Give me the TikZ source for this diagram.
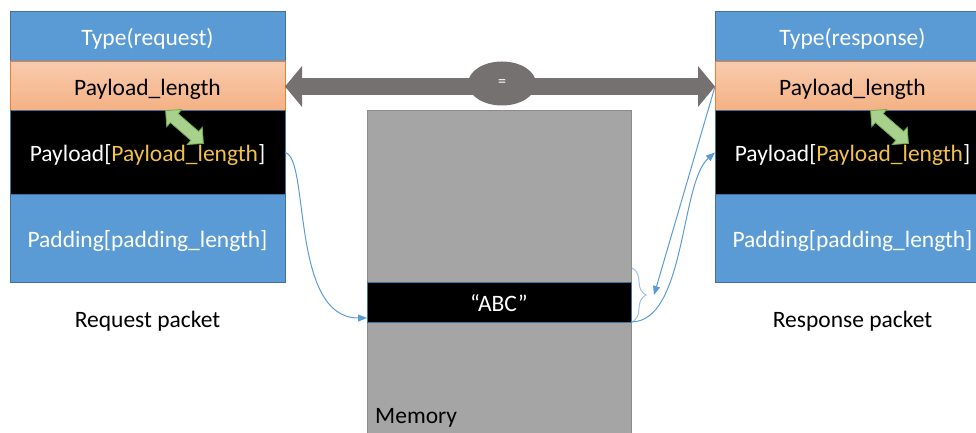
\documentclass[tikz,border=0pt]{standalone}
\usepackage{fontspec}
\setmainfont{Carlito}
\usetikzlibrary{positioning,calc,shapes.arrows,shapes.geometric,arrows.meta,decorations.pathreplacing}

\definecolor{boxblue}{HTML}{5B9BD5}
\definecolor{edgeblue}{HTML}{41719C}
\definecolor{lentop}{HTML}{F8CBAD}
\definecolor{lenbot}{HTML}{F4B183}
\definecolor{lenedge}{HTML}{ED7D31}
\definecolor{lengold}{HTML}{F2C14A}
\definecolor{arrowgrey}{HTML}{767171}
\definecolor{memgrey}{HTML}{A5A5A5}
\definecolor{memedge}{HTML}{8C8C8C}
\definecolor{linkblue}{HTML}{5B9BD5}
\definecolor{bracecol}{HTML}{9DC3E6}
\definecolor{linkgreen}{HTML}{A9D18E}
\definecolor{linkedge}{HTML}{70AD47}

\tikzstyle{field} = [rectangle, minimum width=275pt, inner sep=0pt, outer sep=0pt,
    draw=edgeblue, line width=1pt, text=white, font=\fontsize{23.5}{27}\selectfont,
    text height=19pt, text depth=1pt]
\tikzstyle{typefield} = [field, fill=boxblue, minimum height=50pt]
\tikzstyle{lenfield} = [field, top color=lentop, bottom color=lenbot, draw=lenedge,
    text=black, minimum height=49pt]
\tikzstyle{payfield} = [field, fill=black, minimum height=83pt]
\tikzstyle{padfield} = [field, fill=boxblue, minimum height=88pt]
\tikzstyle{caption} = [inner sep=0pt, font=\fontsize{23.5}{27}\selectfont]
\tikzstyle{lenlink} = [double arrow, fill=linkgreen, draw=linkedge, line width=0.8pt,
    minimum height=50pt, inner xsep=0pt, inner ysep=5.5pt,
    double arrow head extend=5.5pt, double arrow tip angle=90]
\tikzstyle{link} = [draw=linkblue, line width=1pt, -{Triangle[width=7pt,length=9pt]}]

\begin{document}
\begin{tikzpicture}[x=1pt, y=-1pt]
\useasboundingbox (0,0) rectangle (976,433);
\clip (0,0) rectangle (976,433);

% request packet
\node[typefield, anchor=north west] (reqType) at (10,12) {Type(request)};
\node[lenfield, below=0pt of reqType] (reqLen) {Payload\_length};
\node[payfield, below=0pt of reqLen] (reqPay)
    {Payload[\textcolor{lengold}{Payload\_length}]};
\node[padfield, below=0pt of reqPay] (reqPad) {Padding[padding\_length]};
\node[caption] (reqLbl) at ($(reqPad.south)+(0,39)$) {Request packet};
\node[lenlink, rotate=-41] (reqLink) at ($(reqLen.south)+(37,16)$) {};

% response packet
\node[typefield, anchor=north west] (rspType) at (715,12) {Type(response)};
\node[lenfield, below=0pt of rspType] (rspLen) {Payload\_length};
\node[payfield, below=0pt of rspLen] (rspPay)
    {Payload[\textcolor{lengold}{Payload\_length}]};
\node[padfield, below=0pt of rspPay] (rspPad) {Padding[padding\_length]};
\node[caption] (rspLbl) at ($(rspPad.south)+(0,39)$) {Response packet};
\node[lenlink, rotate=-41] (rspLink) at ($(rspLen.south)+(37,16)$) {};

% memory
\node[rectangle, fill=memgrey, draw=memedge, line width=1pt, anchor=north west,
    minimum width=264pt, minimum height=340pt] (mem) at (367,110) {};
\node[field, fill=black, minimum width=264pt, minimum height=40pt,
    anchor=north west] (abc) at (367,282) {“ABC”};
\node[caption, anchor=west] (memLbl) at ($(abc.south west)+(8,96)$) {Memory};

% equal lengths
\draw[line width=17pt, draw=arrowgrey,
    {Triangle[width=40pt,length=17pt]}-{Triangle[width=40pt,length=17pt]}]
    (reqLen.east) -- (rspLen.west);
\node[ellipse, fill=arrowgrey, minimum width=68pt, minimum height=44pt, inner sep=0pt,
    text=white, font=\fontsize{16}{18}\selectfont] (eq)
    at ($(reqLen.east)!0.5!(rspLen.west)+(2,-3)$) {=};

% brace and links
\coordinate (braceTop) at ($(abc.north east)+(1,-14)$);
\coordinate (braceBot) at ($(abc.south east)+(1,0)$);
\coordinate (braceTip) at ($(braceTop)!0.5!(braceBot)+(22,0)$);
\draw[draw=bracecol, line width=1pt, decorate, decoration={brace, amplitude=14pt}]
    (braceTop) -- (braceBot);
\draw[link] (reqPay.east) .. controls +(25,5) and +(-77,0) .. ($(abc.south west)+(0,-4)$);
\draw[link] (rspLen.west) -- (braceTip);
\draw[link] (abc.south east) .. controls +(55,0) and +(-35,30) .. (rspPay.west);
\end{tikzpicture}
\end{document}
